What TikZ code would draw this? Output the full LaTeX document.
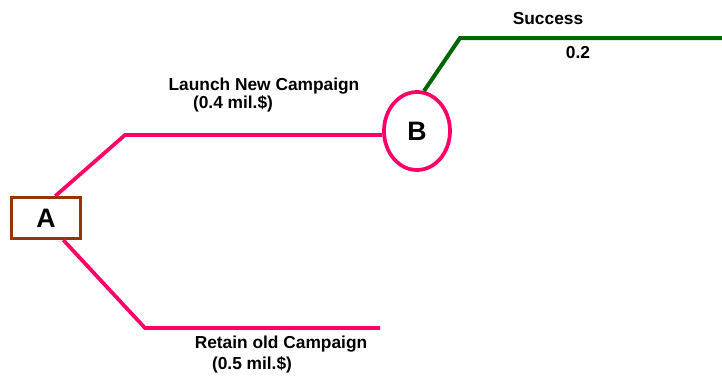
\documentclass[tikz,border=0pt]{standalone}
\usepackage{fontspec}
\setmainfont{Liberation Sans}
\usetikzlibrary{shapes.geometric,calc}
\definecolor{rosered}{HTML}{FF0066}
\definecolor{boxbrown}{HTML}{993300}
\definecolor{leafgreen}{HTML}{006600}

\begin{document}
\begin{tikzpicture}[x=0.75pt,y=-0.75pt,
        branch/.style={line width=2.8pt, color=rosered},
        lbl/.style={font=\bfseries\fontsize{13}{15}\selectfont, inner sep=0pt}]
        \useasboundingbox (0,0) rectangle (722,379);
        % decision and chance nodes
        \node[draw=boxbrown, line width=2.25pt, minimum width=51.75pt, minimum height=30.75pt, inner sep=0pt, font=\bfseries\fontsize{20}{22}\selectfont] (A) at (46,218) {A};
        \node[ellipse, draw=rosered, line width=2.8pt, minimum width=49.5pt, minimum height=58.5pt, inner sep=0pt, font=\bfseries\fontsize{20}{22}\selectfont] (B) at (417,131) {B};
        \coordinate (up) at (125,135); \coordinate (down) at (145,328); \coordinate (downend) at (380,328);
        \coordinate (succ) at (460,38); \coordinate (succend) at (723,38);

        \draw[branch] ($(A.north west)!0.63!(A.north east)$) -- (up) -- (up -| B.west);
        \draw[branch] ($(A.south west)!0.74!(A.south east)$) -- (down) -- (downend);
        \draw[line width=3pt, color=leafgreen] (B.80) -- (succ) -- (succend);

        \node[lbl] (launch) at (264,86) {Launch New Campaign};
        \node[lbl] (launchcost) at (233,104) {(0.4 mil.\$)};
        \node[lbl] (retain) at (281,344) {Retain old Campaign};
        \node[lbl] (retaincost) at (252,365) {(0.5 mil.\$)};
        \node[lbl] (success) at (548,19) {Success};
        \node[lbl] (prob) at (578,53) {0.2};
    \end{tikzpicture}
\end{document}
